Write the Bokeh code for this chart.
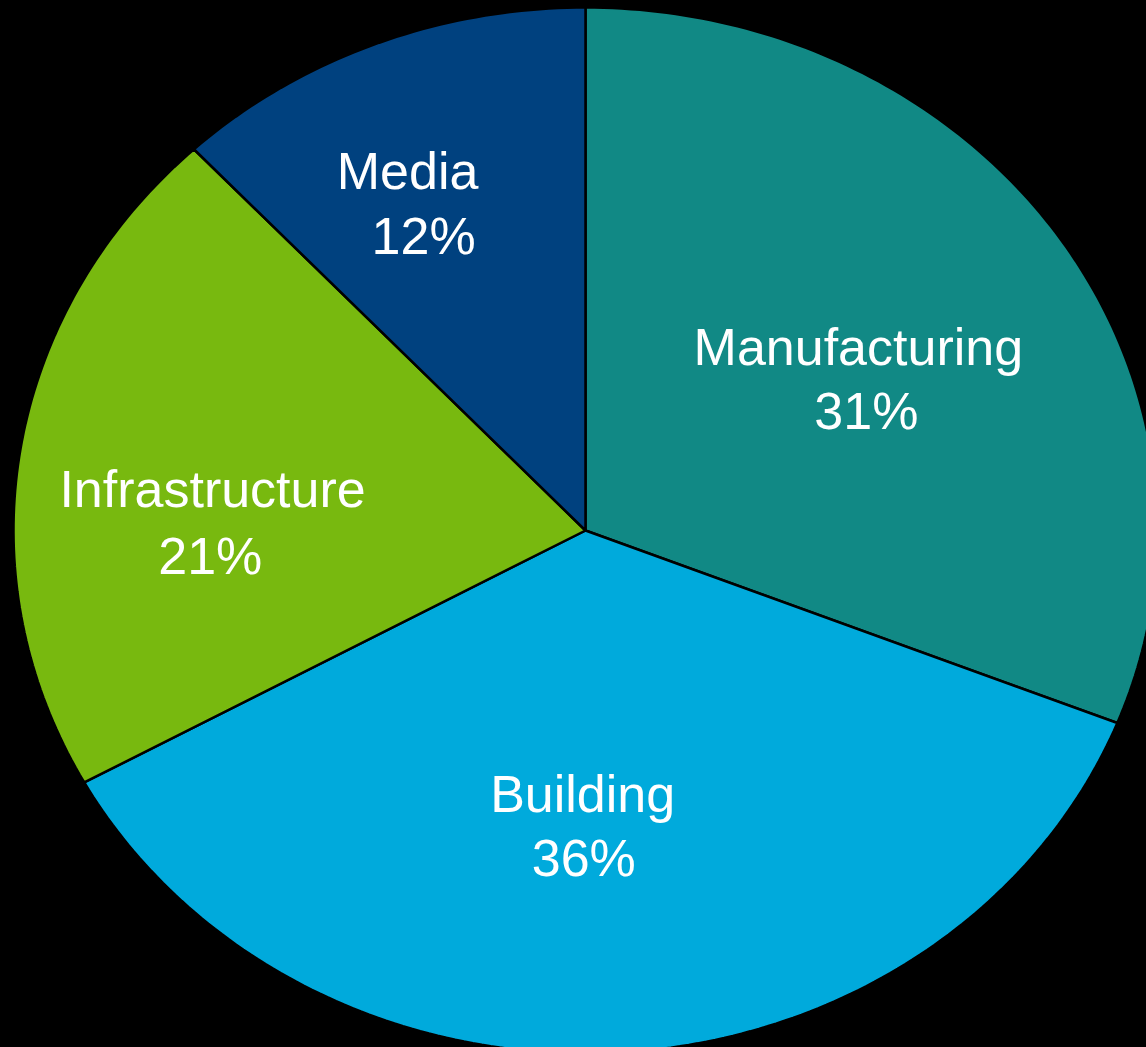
import numpy as np
from bokeh.plotting import figure
from bokeh.models import Range1d, ColumnDataSource
from bokeh.core.properties import value
from bokeh.embed import file_html
from bokeh.resources import INLINE

# ---- data ----
categories = ["Manufacturing", "Building", "Infrastructure", "Media"]
shares = [31, 36, 21, 12]
colors = ["#118985", "#00AADC", "#78B90F", "#00417F"]
pct_labels = ["31%", "36%", "21%", "12%"]

# label anchor positions (unit-circle coordinates) for the name line and the percentage line
name_x = [0.477, -0.005, -0.652, -0.311]
name_y = [0.350, -0.503, 0.080, 0.688]
pct_x = [0.491, -0.003, -0.656, -0.283]
pct_y = [0.229, -0.626, -0.048, 0.564]

# ---- wedges as patches in data space (ellipse through unequal scales) ----
total = float(sum(shares))
frac = np.array(shares) / total
ends = np.cumsum(frac)
starts = ends - frac
xs, ys = [], []
for s, e in zip(starts, ends):
    a0 = np.pi / 2 - 2 * np.pi * s
    a1 = np.pi / 2 - 2 * np.pi * e
    n = max(int(400 * (e - s)), 8)
    t = np.linspace(a0, a1, n)
    xs.append([0.0] + list(np.cos(t)) + [0.0])
    ys.append([0.0] + list(np.sin(t)) + [0.0])

src = ColumnDataSource(dict(xs=xs, ys=ys, color=colors))

W, H = 1146, 1047
p = figure(width=W, height=H, output_backend="svg", toolbar_location=None,
           x_range=Range1d(-1.02273, 0.98077), y_range=Range1d(-0.98853, 1.01338),
           min_border=0, background_fill_color="black", border_fill_color="black")
p.axis.visible = False
p.grid.visible = False
p.outline_line_color = None

p.patches("xs", "ys", source=src, fill_color="color", line_color="#000000", line_width=2.5)

tsrc = ColumnDataSource(dict(nx=name_x, ny=name_y, px=pct_x, py=pct_y,
                             name=categories, pct=pct_labels))
common = dict(text_color="white", text_font=value("Liberation Sans"), text_font_size="52px",
              text_align="center", text_baseline="alphabetic")
p.text("nx", "ny", text="name", source=tsrc, **common)
p.text("px", "py", text="pct", source=tsrc, **common)

html = file_html(p, INLINE)
html = html.replace("<head>", "<head><style>html,body{background:#000;margin:0;padding:0;overflow:hidden;}</style>", 1)
open("out.html", "w").write(html)
